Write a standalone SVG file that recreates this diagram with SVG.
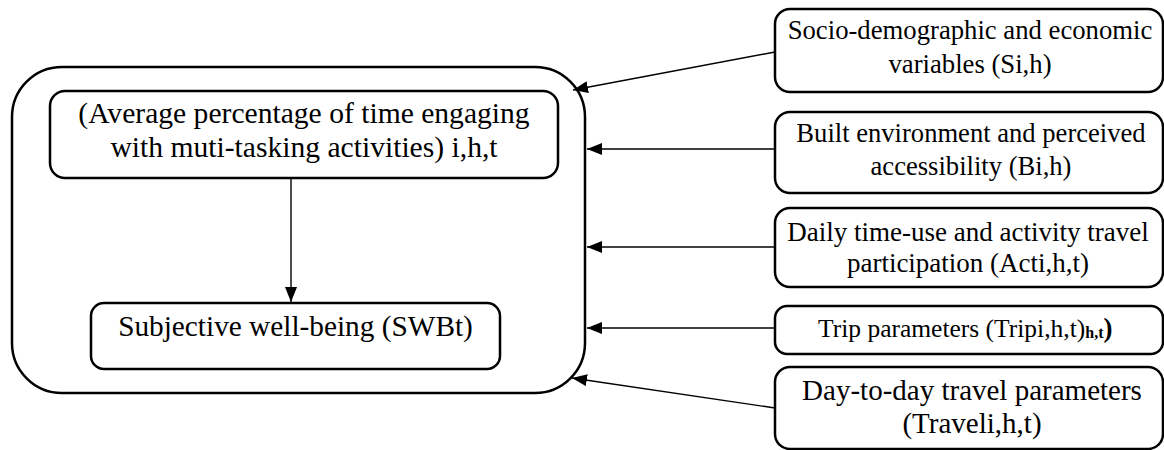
<svg xmlns="http://www.w3.org/2000/svg" width="1164" height="450" viewBox="0 0 1164 450">
<style>
.box{fill:#fff;stroke:#000;stroke-width:2.5}
.t{font-family:"Liberation Serif","Times New Roman",serif;fill:#000;text-anchor:middle}
.c{stroke:#000;stroke-width:1.4;fill:none}
</style>
<defs>
<marker id="ah" viewBox="0 0 15 12" refX="15" refY="6" markerWidth="15" markerHeight="12" markerUnits="userSpaceOnUse" orient="auto">
<path d="M0,0 L15,6 L0,12 z" fill="#000"/>
</marker>
</defs>
<rect width="1164" height="450" fill="#fff"/>
<g id="container">
<rect class="box" x="12" y="67" width="573" height="326" rx="50" ry="50"/>
</g>
<g id="multitasking">
<rect class="box" x="50" y="91" width="508" height="87" rx="15" ry="15"/>
<text class="t" font-size="29.6" x="304" y="123">(Average percentage of time engaging</text>
<text class="t" font-size="29.6" x="304" y="157">with muti-tasking activities) i,h,t</text>
</g>
<g id="swb">
<rect class="box" x="91" y="303" width="409" height="66" rx="13" ry="13"/>
<text class="t" font-size="29.3" x="295.5" y="336">Subjective well-being (SWBt)</text>
</g>
<g id="socio">
<rect class="box" x="775" y="9" width="388" height="83" rx="15" ry="15"/>
<text class="t" font-size="26.7" x="970" y="39">Socio-demographic and economic</text>
<text class="t" font-size="26.7" x="970" y="73">variables (Si,h)</text>
</g>
<g id="built">
<rect class="box" x="775" y="112" width="388" height="81" rx="15" ry="15"/>
<text class="t" font-size="26.6" x="971" y="142">Built environment and perceived</text>
<text class="t" font-size="26.6" x="971" y="175">accessibility (Bi,h)</text>
</g>
<g id="daily">
<rect class="box" x="775" y="208" width="388" height="79" rx="15" ry="15"/>
<text class="t" font-size="27" x="968" y="241">Daily time-use and activity travel</text>
<text class="t" font-size="27" x="968" y="272">participation (Acti,h,t)</text>
</g>
<g id="trip">
<rect class="box" x="775" y="306" width="388" height="48" rx="12" ry="12"/>
<text class="t" font-size="25.5" x="818" y="337" style="text-anchor:start">Trip parameters (Tripi,h,t)<tspan font-size="16" font-weight="bold" dy="1">h,t</tspan><tspan font-weight="bold" font-size="27" dy="-1">)</tspan></text>
</g>
<g id="daytoday">
<rect class="box" x="775" y="367" width="388" height="82" rx="15" ry="15"/>
<text class="t" font-size="29" x="972" y="400">Day-to-day travel parameters</text>
<text class="t" font-size="29" x="972" y="433">(Traveli,h,t)</text>
</g>
<g id="connectors">
<line class="c" x1="291" y1="178" x2="291" y2="302" marker-end="url(#ah)"/>
<line class="c" x1="775" y1="52" x2="573" y2="90" marker-end="url(#ah)"/>
<line class="c" x1="775" y1="149" x2="587" y2="149" marker-end="url(#ah)"/>
<line class="c" x1="775" y1="247" x2="587" y2="247" marker-end="url(#ah)"/>
<line class="c" x1="775" y1="328" x2="587" y2="328" marker-end="url(#ah)"/>
<line class="c" x1="775" y1="408" x2="572" y2="378" marker-end="url(#ah)"/>
</g>
</svg>
